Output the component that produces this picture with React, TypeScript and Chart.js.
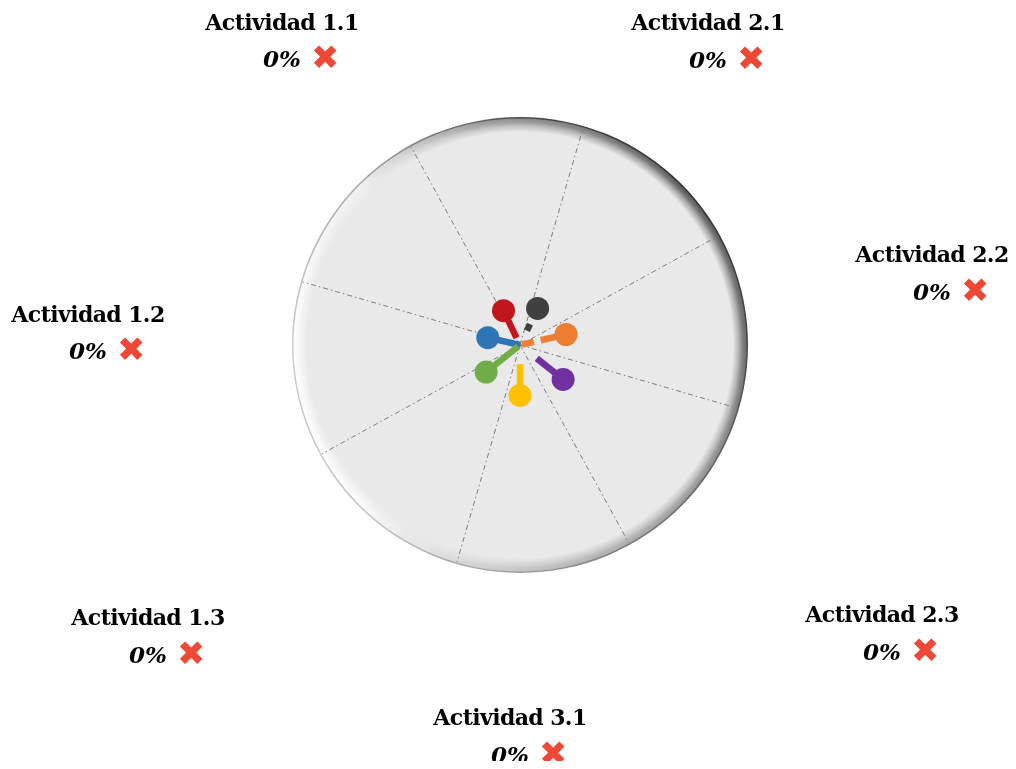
import React, { useEffect, useRef } from "react";
import { Chart, registerables } from "chart.js";

Chart.register(...registerables);

// ---- data ----
const categories = [
  "Actividad 1.1",
  "Actividad 2.1",
  "Actividad 2.2",
  "Actividad 2.3",
  "Actividad 3.1",
  "Actividad 1.3",
  "Actividad 1.2",
];
const completion = ["0%", "0%", "0%", "0%", "0%", "0%", "0%"];
const statusMarks = ["✖", "✖", "✖", "✖", "✖", "✖", "✖"];
// radial position of each marker (percent of the dial radius)
const markerValues = [16.7, 17.8, 20.7, 24.2, 22.1, 19.0, 14.5];
// visible parts of each stem, in the same radial units
const stemSpans: number[][][] = [
  [[3.5, 100]],
  [[7.0, 10.2]],
  [[1.0, 6.2], [9.3, 100]],
  [[9.4, 100]],
  [[8.4, 100]],
  [[1.0, 100]],
  [[0, 100]],
];

// ---- styles / layout ----
const markerColors = ["#C1171C", "#404040", "#ED7D31", "#7030A0", "#FFC000", "#70AD47", "#2E75B6"];
const labelOffsets: [number, number][] = [
  [-238, -315.5],
  [188, -315],
  [412, -83],
  [362, 277],
  [-10, 380],
  [-372, 280],
  [-432, -23.5],
];
const SPOKES = 8;
const SPOKE_OFFSET = -28.8;
const FACE = "rgba(233,233,233,1)";

function conic(ctx: CanvasRenderingContext2D, cx: number, cy: number, stops: [number, string][]) {
  const anyCtx = ctx as any;
  let g: CanvasGradient;
  if (typeof anyCtx.createConicGradient === "function") {
    g = anyCtx.createConicGradient(0, cx, cy);
  } else {
    g = ctx.createLinearGradient(cx + 200, cy - 200, cx - 200, cy + 200);
  }
  stops.forEach(([p, c]) => g.addColorStop(p, c));
  return g;
}

const discPlugin = {
  id: "disc",
  beforeDatasetsDraw(chart: any) {
    const ctx: CanvasRenderingContext2D = chart.ctx;
    const s = chart.scales.r;
    const cx = s.xCenter;
    const cy = s.yCenter;
    const R = s.drawingArea;
    ctx.save();
    // outer edge
    ctx.beginPath();
    ctx.arc(cx, cy, R, 0, Math.PI * 2);
    ctx.fillStyle = conic(ctx, cx, cy, [
      [0, "#4a4a4a"],
      [0.125, "#6a6a6a"],
      [0.25, "#9a9a9a"],
      [0.375, "#c4c4c4"],
      [0.5, "#cacaca"],
      [0.625, "#a8a8a8"],
      [0.75, "#4a4a4a"],
      [0.875, "#2e2e2e"],
      [1, "#4a4a4a"],
    ]);
    ctx.fill();
    // bevel band
    ctx.beginPath();
    ctx.arc(cx, cy, R - 1.5, 0, Math.PI * 2);
    ctx.fillStyle = conic(ctx, cx, cy, [
      [0, "#6a6a6a"],
      [0.125, "#9a9a9a"],
      [0.25, "#c2c2c2"],
      [0.375, "#fcfcfc"],
      [0.5, "#ffffff"],
      [0.625, "#f0f0f0"],
      [0.72, "#9a9a9a"],
      [0.875, "#5a5a5a"],
      [1, "#6a6a6a"],
    ]);
    ctx.fill();
    // face
    const r2 = R - 1.5;
    const rg = ctx.createRadialGradient(cx, cy, 0, cx, cy, r2);
    rg.addColorStop(0, FACE);
    rg.addColorStop((R - 15) / r2, FACE);
    rg.addColorStop((R - 9) / r2, "rgba(233,233,233,0.55)");
    rg.addColorStop((R - 5) / r2, "rgba(233,233,233,0.15)");
    rg.addColorStop(1, "rgba(233,233,233,0)");
    ctx.beginPath();
    ctx.arc(cx, cy, r2, 0, Math.PI * 2);
    ctx.fillStyle = rg;
    ctx.fill();
    // spokes
    ctx.strokeStyle = "#7a7a7a";
    ctx.lineWidth = 1;
    ctx.setLineDash([5, 3, 1.5, 3]);
    for (let k = 0; k < SPOKES; k++) {
      const a = ((SPOKE_OFFSET + (k * 360) / SPOKES) * Math.PI) / 180 - Math.PI / 2;
      ctx.beginPath();
      ctx.moveTo(cx, cy);
      ctx.lineTo(cx + Math.cos(a) * (R - 2), cy + Math.sin(a) * (R - 2));
      ctx.stroke();
    }
    ctx.restore();
  },
};

const labelPlugin = {
  id: "dialLabels",
  afterDraw(chart: any) {
    const ctx: CanvasRenderingContext2D = chart.ctx;
    const s = chart.scales.r;
    ctx.save();
    categories.forEach((cat, i) => {
      const [dx, dy] = labelOffsets[i];
      const x = s.xCenter + dx;
      const y = s.yCenter + dy;
      ctx.fillStyle = "#000000";
      ctx.textBaseline = "alphabetic";
      ctx.textAlign = "center";
      ctx.font = "bold 22px 'DejaVu Serif'";
      (ctx as any).letterSpacing = "-0.6px";
      ctx.fillText(cat, x, y);
      (ctx as any).letterSpacing = "0px";
      ctx.textAlign = "left";
      ctx.font = "italic bold 23px 'DejaVu Serif'";
      const y2 = y + 37.5;
      ctx.fillText(completion[i], x - 19, y2);
      // status mark, sized by ink
      ctx.font = "100px 'DejaVu Sans'";
      const m = ctx.measureText(statusMarks[i]);
      const inkW = m.actualBoundingBoxLeft + m.actualBoundingBoxRight || 80;
      const size = (100 * 23) / inkW;
      ctx.font = `${size}px 'DejaVu Sans'`;
      const m2 = ctx.measureText(statusMarks[i]);
      const centerY = y2 - 10.5;
      const base = centerY - (m2.actualBoundingBoxDescent - m2.actualBoundingBoxAscent) / 2;
      ctx.fillStyle = "#EF4836";
      ctx.fillText(statusMarks[i], x + 31 + m2.actualBoundingBoxLeft, base);
    });
    ctx.restore();
  },
};

function stemDash(i: number) {
  return (c: any) => {
    const s = c.chart.scales.r;
    if (!s || !s.drawingArea) return [];
    const px = (v: number) => s.getDistanceFromCenterForValue(v);
    const d = px(markerValues[i]);
    const lead = i === 0 ? d : 0;
    const out: number[] = [0];
    let pos = 0;
    stemSpans[i].forEach(([a, b]) => {
      const pa = Math.min(px(a), d);
      const pb = Math.min(px(b), d);
      if (pb <= pa) return;
      out.push(lead + pa - pos);
      out.push(pb - pa);
      pos = lead + pb;
    });
    out.push(10000);
    return out.length % 2 === 0 ? out : [...out, 0];
  };
}

export default function App() {
  const ref = useRef<HTMLCanvasElement | null>(null);

  useEffect(() => {
    if (!ref.current) return;
    const datasets = categories.map((_, i) => ({
      label: categories[i],
      data: categories.map((__, j) => (j === i ? markerValues[i] : 0)),
      borderColor: markerColors[i],
      backgroundColor: markerColors[i],
      pointBackgroundColor: markerColors[i],
      pointBorderWidth: 0,
      pointRadius: categories.map((__, j) => (j === i ? 11.5 : 0)),
      pointHoverRadius: categories.map((__, j) => (j === i ? 11.5 : 0)),
      borderWidth: 6.5,
      borderCapStyle: "butt" as const,
      borderJoinStyle: "bevel" as const,
      borderDash: stemDash(i),
      fill: false,
      tension: 0,
    }));
    const chart = new Chart(ref.current, {
      type: "radar",
      data: { labels: categories, datasets },
      options: {
        animation: false,
        responsive: true,
        maintainAspectRatio: false,
        layout: { padding: { left: 292, right: 268, top: 117, bottom: 196 } },
        plugins: {
          legend: { display: false },
          tooltip: { enabled: false },
        },
        scales: {
          r: {
            min: 0,
            max: 100,
            startAngle: -360 / 14,
            ticks: { display: false },
            grid: { display: false },
            angleLines: { display: false },
            pointLabels: { display: false },
          },
        },
      },
      plugins: [discPlugin, labelPlugin],
    });
    return () => chart.destroy();
  }, []);

  return (
    <div style={{ margin: "-8px", width: 1016, height: 769, position: "relative" }}>
      <canvas ref={ref} />
    </div>
  );
}
